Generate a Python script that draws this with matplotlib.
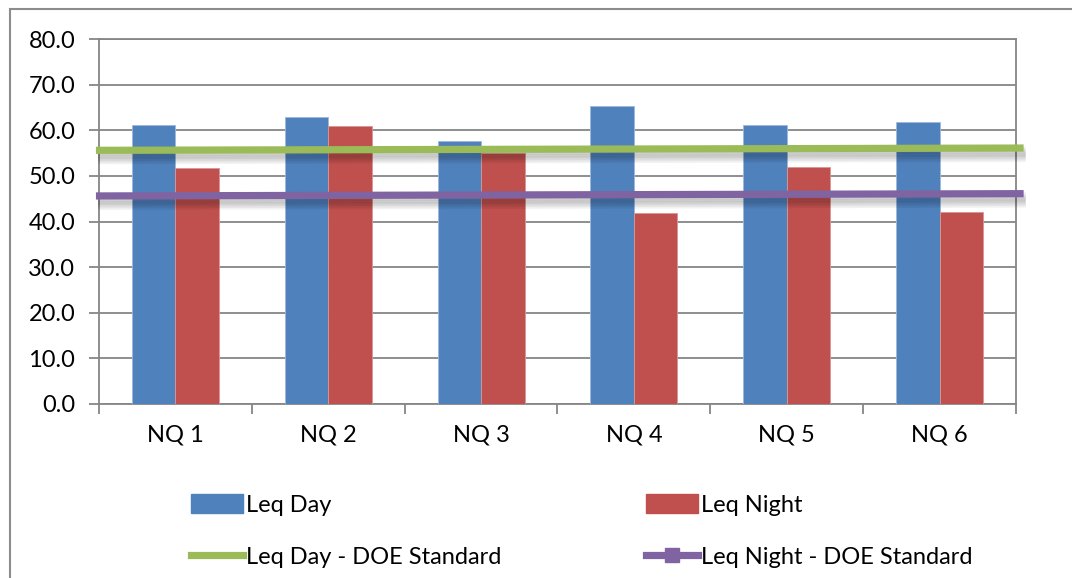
import matplotlib
matplotlib.use("Agg")
import matplotlib.pyplot as plt
import matplotlib.patheffects as pe
from matplotlib.lines import Line2D
from matplotlib.patches import Patch, Rectangle
import numpy as np

plt.rcParams['font.family'] = ['Lato', 'DejaVu Sans']

# noise monitoring stations and measured levels (dBA)
stations = ['NQ 1', 'NQ 2', 'NQ 3', 'NQ 4', 'NQ 5', 'NQ 6']
leq_day = [61.1, 63.0, 57.7, 65.3, 61.2, 61.9]
leq_night = [51.7, 60.9, 55.0, 41.8, 52.0, 42.0]

# DOE standard lines, value at left and right end
doe_day = [55.6, 56.1]
doe_night = [45.6, 46.1]

blue = '#4F81BD'
red = '#C0504D'
green = '#9BBB59'
purple = '#8064A2'
grey = '#868686'

fig = plt.figure(figsize=(10.72, 5.78), dpi=100)
ax = fig.add_axes([99/1072, 174/578, 917/1072, 365/578])

# outer chart frame (runs off the right and bottom edge)
fig.patches.append(Rectangle((10/1072, -0.1), 1.2, (578-9)/578 + 0.1,
                             transform=fig.transFigure, fill=False,
                             edgecolor='#8c8c8c', linewidth=1.5))

x = np.arange(len(stations))
w = 0.285
ax.bar(x - w/2, leq_day, w, color=blue, edgecolor='#9DB8DA', linewidth=0.6, zorder=3)
ax.bar(x + w/2, leq_night, w, color=red, edgecolor='#D99694', linewidth=0.6, zorder=3)

# soft shadow under the standard lines
shadow = [pe.SimpleLineShadow(offset=(1.5, -1.5 - 1.2 * i), shadow_color='k', alpha=0.05)
          for i in range(6)] + [pe.Normal()]
xs = [-0.52, 5.55]
ax.plot(xs, doe_day, color=green, lw=5.2, solid_capstyle='butt', zorder=4,
        clip_on=False, path_effects=shadow)
ax.plot(xs, doe_night, color=purple, lw=5.2, solid_capstyle='butt', zorder=4,
        clip_on=False, path_effects=shadow)

ax.set_xlim(-0.5, 5.5)
ax.set_ylim(0, 80)
ax.set_yticks(np.arange(0, 81, 10))
ax.set_yticklabels([f'{v:.1f}' for v in np.arange(0, 81, 10)])
ax.yaxis.grid(True, color=grey, linewidth=1.3, zorder=0)
ax.set_axisbelow(True)

ax.set_xticks(x)
ax.set_xticklabels(stations)
ax.set_xticks(np.arange(-0.5, 6, 1), minor=True)
ax.tick_params(axis='x', which='major', length=0, pad=15, labelsize=17)
ax.tick_params(axis='x', which='minor', length=7, width=1.3, color=grey)
ax.tick_params(axis='y', length=7, width=1.3, color=grey, pad=10, labelsize=17)
for s in ax.spines.values():
    s.set_color(grey)
    s.set_linewidth(1.3)

handles = [Patch(color=blue),
           Line2D([], [], color=green, lw=5.2),
           Patch(color=red),
           Line2D([], [], color=purple, lw=5.2, marker='s', markersize=10)]
labels = ['Leq Day', 'Leq Day - DOE Standard', 'Leq Night', 'Leq Night - DOE Standard']
fig.legend(handles, labels, ncol=2, loc='upper left',
           bbox_to_anchor=(191/1072, 1 - 494/578), frameon=False, fontsize=17,
           handlelength=2.2, handleheight=0.85, handletextpad=0.15,
           columnspacing=6.1, labelspacing=1.3, borderaxespad=0, borderpad=0)

fig.savefig('out.png', dpi=100)
